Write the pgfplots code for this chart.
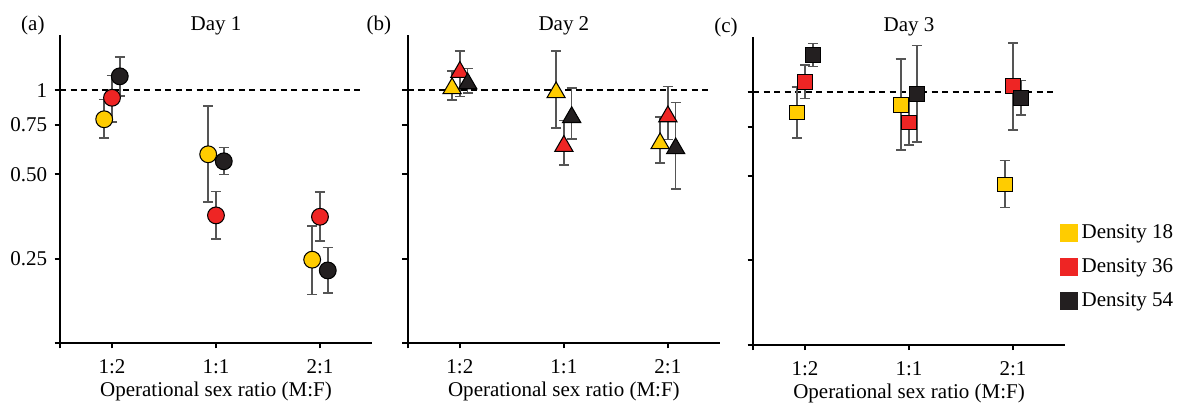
\documentclass[border=0pt]{standalone}
\usepackage{pgfplots}
\pgfplotsset{compat=1.18}
\usepackage{pgfplotstable}
\usepackage{fontspec}
\setmainfont{Liberation Serif}

\definecolor{c18}{HTML}{FFCC00}
\definecolor{c36}{HTML}{EE2524}
\definecolor{c54}{HTML}{231F20}
\definecolor{ebar}{HTML}{555555}

% mean and error (plus / minus) per density
\pgfplotstableread{
x  y18   p18   m18   y36   p36   m36   y54   p54   m54
0  0.787 0.139 0.112 0.939 0.190 0.169 1.120 0.196 0.168
1  0.590 0.287 0.191 0.357 0.078 0.063 0.557 0.067 0.058
2  0.248 0.079 0.062 0.353 0.079 0.064 0.227 0.047 0.038
}\dayone
\pgfplotstableread{
x  y18   p18   m18   y36   p36   m36   y54   p54   m54
0  1.014 0.156 0.093 1.160 0.219 0.210 1.056 0.139 0.078
1  0.981 0.398 0.248 0.631 0.148 0.092 0.800 0.219 0.130
2  0.645 0.158 0.097 0.805 0.226 0.139 0.619 0.284 0.175
}\daytwo
\pgfplotstableread{
x  y18   p18   m18   y36   p36   m36   y54   p54   m54
0  0.843 0.196 0.158 1.086 0.160 0.139 1.356 0.133 0.124
1  0.898 0.411 0.279 0.777 0.153 0.131 0.984 0.477 0.323
2  0.467 0.101 0.081 1.048 0.449 0.317 0.949 0.149 0.124
}\daythree

\pgfplotsset{
  every axis/.append style={
    width=148.5pt, height=146.6pt, scale only axis,
    xmin=-0.5, xmax=2.5,
    axis lines*=left, axis line style={line width=0.9pt, black},
    tick align=outside, major tick length=2.6pt,
    tick style={line width=0.9pt, black},
    xtick={-0.5,0,1,2}, xticklabels={,1:2,1:1,2:1},
    xticklabel style={yshift=-2pt},
    xlabel={Operational sex ratio (M:F)},
    xlabel style={at={(axis description cs:0.5,0)}, anchor=center, yshift=-23.2pt},
    clip=false,
    font=\fontsize{10}{12}\selectfont,
  },
  eb/.style={
    only marks, mark=none, forget plot,
    error bars/y dir=both, error bars/y explicit,
    error bars/error bar style={ebar, line width=0.75pt},
    error bars/error mark options={ebar, line width=0.75pt, rotate=90, mark size=2.4pt},
  },
  dens/.style={only marks, mark options={solid, fill=#1, draw=black, line width=0.5pt}},
  oneline/.style={black, line width=0.8pt, dash pattern=on 3pt off 2pt, forget plot},
}

\begin{document}
\begin{tikzpicture}
\path (-28.56pt,-29.99pt) rectangle (535.98pt,163.27pt);

% Day 1
\begin{axis}[at={(0pt,0pt)}, anchor=south west,
  ymode=log, ymin=0.125, ymax=1.573,
  ytick={0.125,0.25,0.5,0.75,1}, yticklabels={,0.25,0.50,0.75,1}]
\addplot[oneline] coordinates {(-0.5,1) (2.4,1)};
\addplot[eb] table[x expr=\thisrow{x}-0.075, y=y18, y error plus=p18, y error minus=m18] {\dayone};
\addplot[eb] table[x expr=\thisrow{x}, y=y36, y error plus=p36, y error minus=m36] {\dayone};
\addplot[eb] table[x expr=\thisrow{x}+0.075, y=y54, y error plus=p54, y error minus=m54] {\dayone};
\addplot[dens=c18, mark=*, mark size=4pt] table[x expr=\thisrow{x}-0.075, y=y18] {\dayone};
\addplot[dens=c36, mark=*, mark size=4pt] table[x expr=\thisrow{x}, y=y36] {\dayone};
\addplot[dens=c54, mark=*, mark size=4pt] table[x expr=\thisrow{x}+0.075, y=y54] {\dayone};
\node at (rel axis cs:0.5,1) [yshift=4.6pt] {Day 1};
\node at (rel axis cs:0,1) [xshift=-12.9pt, yshift=4.6pt] {(a)};
\end{axis}

% Day 2
\begin{axis}[at={(165.6pt,0pt)}, anchor=south west,
  ymode=log, ymin=0.125, ymax=1.573,
  ytick={0.125,0.25,0.5,0.75,1}, yticklabels={}]
\addplot[oneline] coordinates {(-0.5,1) (2.4,1)};
\addplot[eb] table[x expr=\thisrow{x}-0.075, y=y18, y error plus=p18, y error minus=m18] {\daytwo};
\addplot[eb] table[x expr=\thisrow{x}, y=y36, y error plus=p36, y error minus=m36] {\daytwo};
\addplot[eb] table[x expr=\thisrow{x}+0.075, y=y54, y error plus=p54, y error minus=m54] {\daytwo};
\addplot[dens=c36, mark=triangle*, mark size=5pt] table[x expr=\thisrow{x}, y=y36] {\daytwo};
\addplot[dens=c54, mark=triangle*, mark size=5pt] table[x expr=\thisrow{x}+0.075, y=y54] {\daytwo};
\addplot[dens=c18, mark=triangle*, mark size=5pt] table[x expr=\thisrow{x}-0.075, y=y18] {\daytwo};
\node at (rel axis cs:0.5,1) [yshift=4.6pt] {Day 2};
\node at (rel axis cs:0,1) [xshift=-13.8pt, yshift=4.6pt] {(b)};
\end{axis}

% Day 3
\begin{axis}[at={(329.9pt,-0.8pt)}, anchor=south west,
  ymode=log, ymin=0.125, ymax=1.573,
  ytick={0.125,0.25,0.5,0.75,1}, yticklabels={},
  legend style={draw=none, fill=none, at={(0.981,0.253)}, anchor=west,
    inner sep=0pt, row sep=4.1pt, font=\fontsize{10}{12}\selectfont},
  legend cell align=left]
\addlegendimage{legend image code/.code={\fill[c18] (0pt,-4.05pt) rectangle (8.1pt,4.05pt);}}
\addlegendentry{Density 18}
\addlegendimage{legend image code/.code={\fill[c36] (0pt,-4.05pt) rectangle (8.1pt,4.05pt);}}
\addlegendentry{Density 36}
\addlegendimage{legend image code/.code={\fill[c54] (0pt,-4.05pt) rectangle (8.1pt,4.05pt);}}
\addlegendentry{Density 54}
\addplot[oneline] coordinates {(-0.5,1) (2.4,1)};
\addplot[eb] table[x expr=\thisrow{x}-0.08, y=y18, y error plus=p18, y error minus=m18] {\daythree};
\addplot[eb] table[x expr=\thisrow{x}, y=y36, y error plus=p36, y error minus=m36] {\daythree};
\addplot[eb] table[x expr=\thisrow{x}+0.075, y=y54, y error plus=p54, y error minus=m54] {\daythree};
\addplot[dens=c18, mark=square*, mark size=3.5pt, forget plot] table[x expr=\thisrow{x}-0.08, y=y18] {\daythree};
\addplot[dens=c36, mark=square*, mark size=3.5pt, forget plot] table[x expr=\thisrow{x}, y=y36] {\daythree};
\addplot[dens=c54, mark=square*, mark size=3.5pt, forget plot] table[x expr=\thisrow{x}+0.075, y=y54] {\daythree};
\node at (rel axis cs:0.5,1) [yshift=4.6pt] {Day 3};
\node at (rel axis cs:0,1) [xshift=-12.9pt, yshift=4.6pt] {(c)};
\end{axis}
\end{tikzpicture}
\end{document}
